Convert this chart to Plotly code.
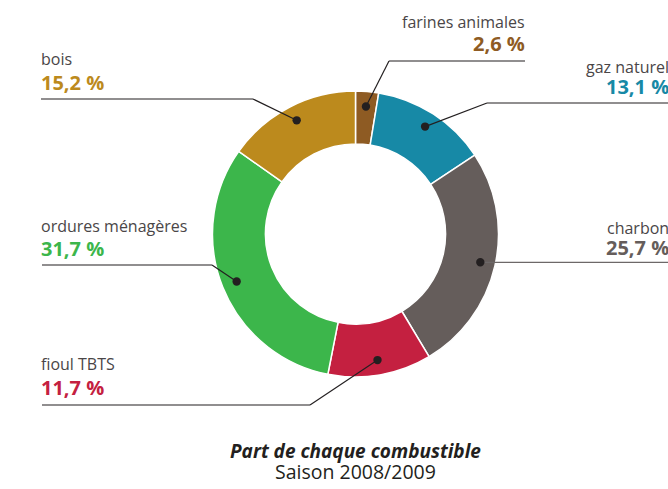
import math
import plotly.graph_objects as go

# ---- data ----
categories = ["farines animales", "gaz naturel", "charbon", "fioul TBTS", "ordures ménagères", "bois"]
values = [2.6, 13.1, 25.7, 11.7, 31.7, 15.2]
pct_labels = ["2,6 %", "13,1 %", "25,7 %", "11,7 %", "31,7 %", "15,2 %"]
colors = ["#8e5b23", "#1789a6", "#655d5b", "#c42040", "#3cb64b", "#bc8a1d"]
title_main = "Part de chaque combustible"
title_sub = "Saison 2008/2009"

# ---- layout (pixels) ----
W, H = 668, 489
CX, CY, R = 355.5, 234.0, 143.0
HOLE = 0.63
DOT_R = 0.895  # dot distance as fraction of outer radius
FONT = "Open Sans"
NAME_COLOR = "#4a4647"
LINE_COLOR = "#231f20"

# per label: anchor side, text x, name y, pct y, line y (None -> dot y), elbow x (None -> dot x), end x
label_layout = {
    "farines animales": ("right", 527, 22, 44, 61, 389, 525),
    "gaz naturel": ("right", 671, 67, 86, 103, 487, 668),
    "charbon": ("right", 671, 228, 247, None, None, 668),
    "fioul TBTS": ("left", 39, 364, 387, 405, 310, 42),
    "ordures ménagères": ("left", 39, 226, 248, 265, 212, 42),
    "bois": ("left", 39, 59, 82, 99, 253, 41),
}


def px(x):
    return x / W


def py(y):
    return 1 - y / H


fig = go.Figure()
fig.add_trace(go.Pie(
    labels=categories,
    values=values,
    sort=False,
    direction="clockwise",
    rotation=0,
    hole=HOLE,
    marker=dict(colors=colors, line=dict(color="white", width=1.5)),
    textinfo="none",
    hoverinfo="label+percent",
    showlegend=False,
    domain=dict(x=[px(CX - R), px(CX + R)], y=[py(CY + R), py(CY - R)]),
))

shapes = []
annotations = []
total = sum(values)
cum = 0.0
for cat, val, pct, col in zip(categories, values, pct_labels, colors):
    mid = (cum + val / 2) / total * 2 * math.pi
    cum += val
    dx = R * DOT_R * math.sin(mid)
    dy = -R * DOT_R * math.cos(mid)
    dotx, doty = CX + dx, CY + dy
    side, tx, ny, pcy, ly, ex, endx = label_layout[cat]
    if ly is None:
        ly = doty
    if ex is None:
        ex = dotx
    shapes.append(dict(type="line", xref="paper", yref="paper",
                       x0=px(dotx), y0=py(doty), x1=px(ex), y1=py(ly),
                       line=dict(color=LINE_COLOR, width=1.2), layer="above"))
    shapes.append(dict(type="line", xref="paper", yref="paper",
                       x0=px(ex), y0=py(ly), x1=px(endx), y1=py(ly),
                       line=dict(color=LINE_COLOR if cat != "charbon" else "#6d6868", width=1.2),
                       layer="above"))
    rr = 4.2
    shapes.append(dict(type="circle", xref="paper", yref="paper",
                       x0=px(dotx - rr), x1=px(dotx + rr), y0=py(doty + rr), y1=py(doty - rr),
                       fillcolor=LINE_COLOR, line=dict(width=0), layer="above"))
    annotations.append(dict(x=px(tx), y=py(ny), xref="paper", yref="paper",
                            xanchor=side, yanchor="middle", showarrow=False,
                            text=cat, font=dict(family=FONT, size=16, color=NAME_COLOR)))
    annotations.append(dict(x=px(tx), y=py(pcy), xref="paper", yref="paper",
                            xanchor=side, yanchor="middle", showarrow=False,
                            text="<b>" + pct + "</b>", font=dict(family=FONT, size=20, color=col)))

annotations.append(dict(x=px(CX), y=py(451), xref="paper", yref="paper",
                        xanchor="center", yanchor="middle", showarrow=False,
                        text="<b><i>" + title_main + "</i></b>",
                        font=dict(family=FONT, size=19, color="#231f20")))
annotations.append(dict(x=px(CX), y=py(471), xref="paper", yref="paper",
                        xanchor="center", yanchor="middle", showarrow=False,
                        text=title_sub,
                        font=dict(family=FONT, size=19.5, color="#231f20")))

fig.update_layout(
    width=W, height=H,
    margin=dict(l=0, r=0, t=0, b=0),
    paper_bgcolor="white", plot_bgcolor="white",
    shapes=shapes, annotations=annotations,
    showlegend=False,
)
fig.write_html("out.html", config={"displayModeBar": False},
               post_script="document.body.style.margin='0';document.body.style.overflow='hidden';")
